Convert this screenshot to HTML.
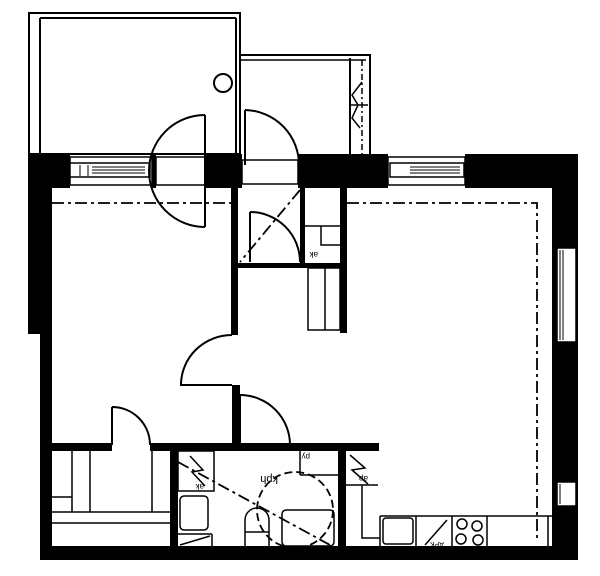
<!DOCTYPE html>
<html><head><meta charset="utf-8"><style>html,body{margin:0;padding:0;background:#fff}svg{display:block}</style></head><body>
<svg width="600" height="576" viewBox="0 0 600 576" xmlns="http://www.w3.org/2000/svg" font-family="Liberation Sans, sans-serif">
<g fill="none" stroke="#000" stroke-width="2">
<rect x="29" y="13" width="211" height="141"/>
<line x1="40" y1="18" x2="40" y2="154"/>
<line x1="40" y1="18" x2="236" y2="18"/>
<line x1="236" y1="18" x2="236" y2="154"/>
<polyline points="240,55 370,55 370,154"/>
<line x1="240" y1="60" x2="366" y2="60" stroke-width="1.5"/>
<line x1="350" y1="58" x2="350" y2="154"/>
<line x1="350" y1="105" x2="368" y2="105" stroke-width="1.5"/>
<line x1="362" y1="60" x2="362" y2="154" stroke-dasharray="6,3,2,3" stroke-width="1.5"/>
<polyline points="362,82 352,95 358,105 352,118 360,128" stroke-width="1.5"/>
<circle cx="223" cy="83" r="9"/>
</g>
<g fill="#000">
<rect x="28" y="154" width="42" height="34"/>
<rect x="152" y="154" width="4" height="34"/>
<rect x="205" y="154" width="37" height="34"/>
<rect x="298" y="154" width="90" height="34"/>
<rect x="465" y="154" width="113" height="34"/>
<rect x="28" y="154" width="24" height="180"/>
<rect x="40" y="330" width="12" height="230"/>
<rect x="552" y="154" width="26" height="406"/>
<rect x="40" y="546" width="538" height="14"/>
<rect x="231" y="187" width="7" height="148"/>
<rect x="232" y="385" width="8" height="66"/>
<rect x="52" y="443" width="60" height="8"/>
<rect x="150" y="443" width="229" height="8"/>
<rect x="170" y="451" width="8" height="95"/>
<rect x="338" y="451" width="8" height="95"/>
<rect x="340" y="187" width="7" height="146"/>
<rect x="300" y="187" width="5" height="78"/>
<rect x="238" y="263" width="109" height="5"/>
</g>
<g fill="#fff" stroke="#000" stroke-width="1.5">
<rect x="70" y="157" width="82" height="28"/>
<rect x="70" y="163" width="80" height="14"/>
<rect x="156" y="157" width="49" height="28"/>
<rect x="242" y="160" width="56" height="24"/>
<rect x="388" y="157" width="77" height="28"/>
<rect x="390" y="163" width="74" height="14"/>
<rect x="557" y="248" width="19" height="94"/>
<rect x="557" y="482" width="19" height="24"/>
</g>
<g stroke="#000" stroke-width="1">
<line x1="92" y1="170" x2="145" y2="170"/><line x1="92" y1="167" x2="145" y2="167"/><line x1="92" y1="173" x2="145" y2="173"/>
<line x1="80" y1="165" x2="80" y2="176"/><line x1="88" y1="165" x2="88" y2="176"/>
<line x1="410" y1="170" x2="460" y2="170"/><line x1="410" y1="167" x2="460" y2="167"/><line x1="410" y1="173" x2="460" y2="173"/>
<line x1="560" y1="250" x2="560" y2="340"/><line x1="563" y1="250" x2="563" y2="340"/>
<line x1="560" y1="484" x2="560" y2="504"/>
</g>
<g fill="none" stroke="#000" stroke-width="2">
<line x1="205" y1="115" x2="205" y2="227"/>
<path d="M205,115 A56,56 0 0 0 205,227"/>
<line x1="245" y1="110" x2="245" y2="165"/>
<path d="M245,110 A55,55 0 0 1 299,165"/>
<line x1="250" y1="212" x2="250" y2="262"/>
<path d="M250,212 A50,50 0 0 1 300,262"/>
<path d="M232,335 A51,50 0 0 0 181,385 L232,385"/>
<line x1="112" y1="407" x2="112" y2="445"/>
<path d="M112,407 A38,38 0 0 1 150,445"/>
<line x1="240" y1="395" x2="240" y2="445"/>
<path d="M240,395 A50,50 0 0 1 290,445"/>
<g stroke-dasharray="12,4,3,4" stroke-width="1.8">
<line x1="52" y1="203" x2="231" y2="203"/>
<polyline points="347,203 537,203 537,540"/>
<line x1="300" y1="190" x2="240" y2="262"/>
<line x1="178" y1="462" x2="330" y2="545"/>
</g>
<circle cx="295" cy="510" r="38" stroke-dasharray="8,4" stroke-width="1.8"/>
<g stroke-width="1.5">
<line x1="305" y1="226" x2="340" y2="226"/>
<polyline points="321,226 321,245 340,245"/>
<rect x="308" y="268" width="32" height="62"/>
<line x1="325" y1="268" x2="325" y2="330"/>
<line x1="52" y1="497" x2="72" y2="497"/>
<line x1="72" y1="451" x2="72" y2="512"/>
<line x1="90" y1="451" x2="90" y2="512"/>
<line x1="152" y1="451" x2="152" y2="512"/>
<line x1="52" y1="512" x2="170" y2="512"/>
<line x1="52" y1="523" x2="170" y2="523"/>
<rect x="178" y="451" width="36" height="40"/>
<rect x="180" y="496" width="28" height="34" rx="4"/>
<line x1="178" y1="534" x2="212" y2="534"/><line x1="212" y1="534" x2="212" y2="546"/>
<line x1="180" y1="545" x2="210" y2="536"/>
<polyline points="190,456 203,470 192,472 205,486"/>
<line x1="300" y1="451" x2="300" y2="475"/><line x1="300" y1="475" x2="338" y2="475"/>
<path d="M245,546 L245,520 A12,12 0 0 1 269,520 L269,546"/>
<line x1="245" y1="532" x2="269" y2="532"/>
<rect x="282" y="510" width="52" height="36" rx="4"/>
<polyline points="346,485 378,485"/>
<polyline points="350,455 365,468 352,470 368,484"/>
<polyline points="362,485 362,538 380,538"/>
<line x1="380" y1="516" x2="552" y2="516"/>
<line x1="380" y1="516" x2="380" y2="546"/>
<rect x="383" y="518" width="30" height="26" rx="3"/>
<line x1="416" y1="516" x2="416" y2="546"/>
<line x1="452" y1="516" x2="452" y2="546"/>
<line x1="487" y1="516" x2="487" y2="546"/>
<line x1="548" y1="516" x2="548" y2="546"/>
<line x1="425" y1="545" x2="447" y2="520"/>
<circle cx="462" cy="524" r="5"/><circle cx="477" cy="526" r="5"/>
<circle cx="461" cy="539" r="5"/><circle cx="478" cy="540" r="5"/>
</g>
</g>
<g font-size="8" fill="#000">
<text x="306" y="258" transform="rotate(180 312 255)">ak</text>
<text x="258" y="482" font-size="11" transform="rotate(180 268 479)">kph</text>
<text x="302" y="460" transform="rotate(180 306 457)">py</text>
<text x="196" y="490" transform="rotate(180 200 487)">ak</text>
<text x="428" y="548" font-size="7" transform="rotate(180 436 545)">APK</text>
<text x="356" y="482" transform="rotate(180 362 479)">ap</text>
</g>
</svg>
</body></html>
